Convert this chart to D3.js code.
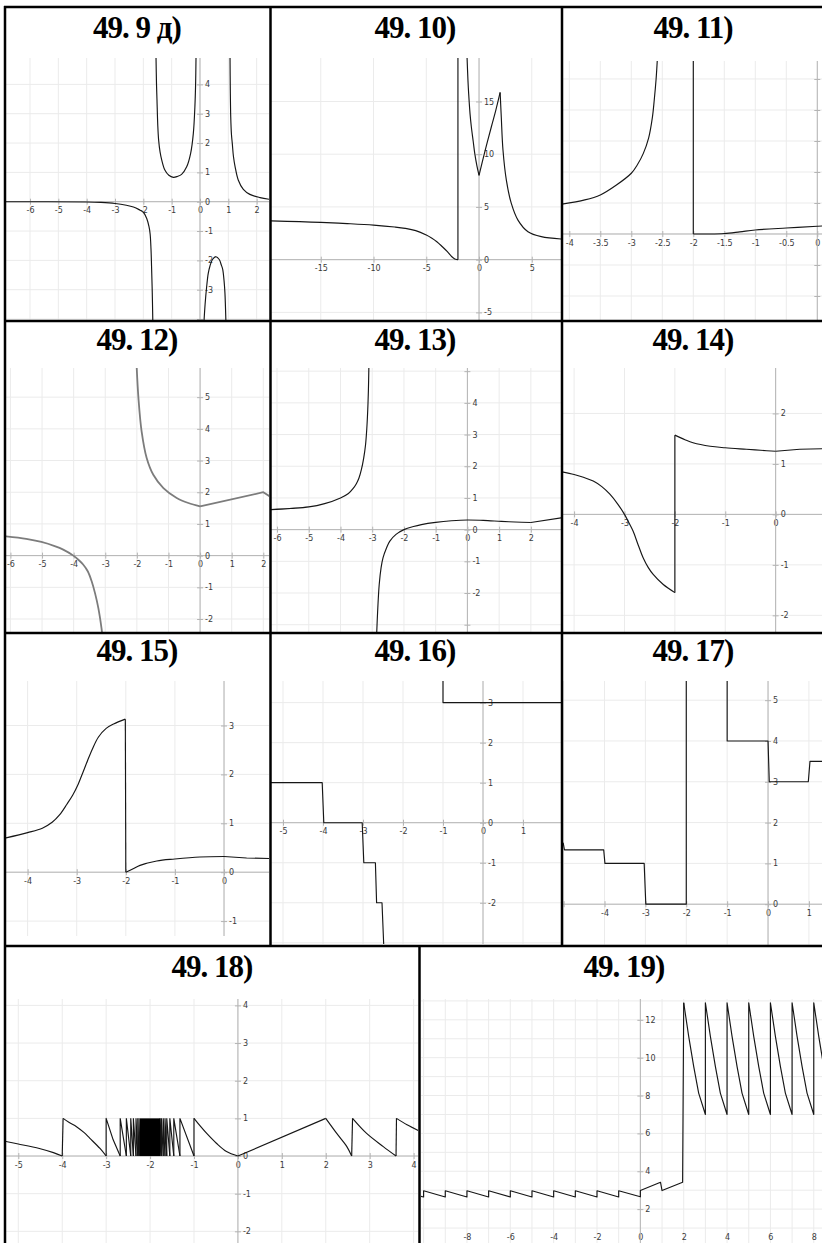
<!DOCTYPE html>
<html>
<head>
<meta charset="utf-8">
<script src="https://cdn.jsdelivr.net/npm/d3@7"></script>
<style>
  body { margin: 0; background: #fff; }
  svg { display: block; }
</style>
</head>
<body>
<svg id="chart" width="822" height="1243"></svg>
<script>
// ---------- titles ----------
const titles = ["49. 9 д)", "49. 10)", "49. 11)", "49. 12)", "49. 13)", "49. 14)",
                "49. 15)", "49. 16)", "49. 17)", "49. 18)", "49. 19)"];

// ---------- tick labels ----------
const ticks9x = [-6, -5, -4, -3, -2, -1, 0, 1, 2];
const ticks9y = [4, 3, 2, 1, 0, -1, -2, -3];
const ticks10x = [-15, -10, -5, 0, 5];
const ticks10y = [15, 10, 5, 0, -5];
const ticks11x = [-4, -3.5, -3, -2.5, -2, -1.5, -1, -0.5, 0];
const ticks11yMarks = [2.5, 2, 1.5, 1, 0.5, -0.5, -1];
const ticks12x = [-6, -5, -4, -3, -2, -1, 0, 1, 2];
const ticks12y = [5, 4, 3, 2, 1, 0, -1, -2];
const ticks13x = [-6, -5, -4, -3, -2, -1, 0, 1, 2];
const ticks13y = [4, 3, 2, 1, 0, -1, -2];
const ticks14x = [-4, -3, -2, -1, 0];
const ticks14y = [2, 1, 0, -1, -2];
const ticks15x = [-4, -3, -2, -1, 0];
const ticks15y = [3, 2, 1, 0, -1];
const ticks16x = [-5, -4, -3, -2, -1, 0, 1];
const ticks16y = [3, 2, 1, 0, -1, -2];
const ticks17x = [-4, -3, -2, -1, 0, 1];
const ticks17y = [5, 4, 3, 2, 1, 0];
const ticks18x = [-5, -4, -3, -2, -1, 0, 1, 2, 3, 4];
const ticks18y = [4, 3, 2, 1, 0, -1, -2];
const ticks19x = [-8, -6, -4, -2, 0, 2, 4, 6, 8];
const ticks19y = [12, 10, 8, 6, 4, 2];

// ---------- 49.9 д ----------
const c9Left = [[-6.85,-0.002],[-4,-0.01],[-3.5,-0.025],[-3,-0.06],[-2.6,-0.12],[-2.35,-0.18],[-2.15,-0.27],[-2,-0.36],[-1.88,-0.57],[-1.8,-0.85],[-1.76,-1.1],[-1.73,-1.6],[-1.71,-2.2],[-1.685,-3.1],[-1.665,-4.1]];
const c9Bowl = [[-1.553,4.95],[-1.535,4.0],[-1.518,3.47],[-1.49,2.6],[-1.46,2.1],[-1.41,1.7],[-1.35,1.42],[-1.24,1.08],[-1.1,0.9],[-0.94,0.83],[-0.8,0.86],[-0.65,0.93],[-0.47,1.19],[-0.33,1.65],[-0.235,2.33],[-0.18,3.24],[-0.155,4.0],[-0.14,4.95]];
const c9Right = [[1.06,4.95],[1.07,3.8],[1.085,2.9],[1.11,2.3],[1.14,1.99],[1.18,1.55],[1.24,1.19],[1.35,0.74],[1.53,0.42],[1.76,0.25],[2.12,0.14],[2.45,0.08]];
const c9Cap = [[0.14,-4.1],[0.18,-3.5],[0.235,-2.9],[0.29,-2.45],[0.35,-2.2],[0.44,-1.97],[0.565,-1.875],[0.68,-1.97],[0.75,-2.15],[0.8,-2.3],[0.85,-2.7],[0.88,-3.1],[0.915,-4.1]];

// ---------- 49.10 ----------
const c10Left = [[-19.8,3.68],[-17,3.6],[-15,3.53],[-12.5,3.42],[-10,3.28],[-8,3.1],[-7,2.97],[-6,2.75],[-5,2.33],[-4.5,2.05],[-4,1.7],[-3.5,1.25],[-3,0.76],[-2.6,0.3],[-2.3,0.07],[-2.08,0.01],[-2.0,0]];
const c10Jump = [[-2,0],[-2,19.3]];
const c10Mid = [[-1.14,19.3],[-1.05,17],[-0.98,15.7],[-0.85,13.8],[-0.73,12.6],[-0.55,11.2],[-0.41,10.1],[-0.2,8.9],[0,8.0]];
const c10Rise = [[0,8.0],[0.54,10.2],[1.17,12.6],[1.6,14.2],[2.0,15.85]];
const c10Tail = [[2.0,15.85],[2.11,13.5],[2.27,10.4],[2.59,7.54],[3.06,5.33],[3.69,3.75],[4.64,2.65],[5.9,2.18],[7.8,1.96]];

// ---------- 49.11 ----------
const c11Left = [[-4.13,0.48],[-3.75,0.55],[-3.5,0.63],[-3.24,0.79],[-3,0.98],[-2.9,1.12],[-2.806,1.3],[-2.72,1.55],[-2.66,1.88],[-2.63,2.16],[-2.6,2.5],[-2.58,2.82]];
const c11Jump = [[-2,2.82],[-2,0]];
const c11Right = [[-2,0],[-1.75,0.0],[-1.5,0.008],[-1.25,0.035],[-1,0.065],[-0.5,0.097],[0,0.125],[0.08,0.13]];

// ---------- 49.12 ----------
const c12Left = [[-6.15,0.61],[-5.5,0.53],[-5.02,0.43],[-4.6,0.3],[-4.33,0.19],[-4.01,0],[-3.85,-0.13],[-3.7,-0.28],[-3.55,-0.5],[-3.43,-0.81],[-3.32,-1.2],[-3.22,-1.65],[-3.12,-2.28],[-3.1,-2.45]];
const c12Mid = [[-2.006,5.95],[-1.95,4.97],[-1.85,3.92],[-1.69,3.08],[-1.48,2.55],[-1.16,2.13],[-0.74,1.82],[-0.37,1.66],[0,1.555]];
const c12Tail = [[0,1.555],[2.0,2.0],[2.2,1.87]];

// ---------- 49.13 ----------
const c13Left = [[-6.2,0.63],[-5,0.716],[-4.5,0.82],[-4,1.0],[-3.75,1.14],[-3.6,1.3],[-3.5,1.45],[-3.42,1.62],[-3.34,1.9],[-3.27,2.25],[-3.21,2.68],[-3.17,3.2],[-3.14,3.8],[-3.12,4.4],[-3.105,5.15]];
const c13Right = [[-2.86,-3.3],[-2.83,-2.6],[-2.78,-1.74],[-2.72,-1.2],[-2.66,-0.89],[-2.55,-0.58],[-2.45,-0.37],[-2.25,-0.15],[-2,0],[-1.7,0.1],[-1.45,0.16],[-1,0.23],[-0.5,0.28],[0,0.305],[0.5,0.29],[1.07,0.26],[1.5,0.24],[2,0.225]];
const c13Tail = [[2,0.225],[2.96,0.37]];

// ---------- 49.14 ----------
const c14Left = [[-4.25,0.845],[-4,0.79],[-3.8,0.73],[-3.62,0.66],[-3.45,0.55],[-3.29,0.4],[-3.13,0.2],[-3,0],[-2.91,-0.17],[-2.83,-0.33],[-2.73,-0.6],[-2.63,-0.86],[-2.53,-1.05],[-2.43,-1.19],[-2.23,-1.39],[-2,-1.55]];
const c14Jump = [[-2,-1.55],[-2,1.57]];
const c14Right = [[-2,1.57],[-1.8,1.48],[-1.64,1.42],[-1.3,1.35],[-1,1.32],[-0.58,1.29],[-0.3,1.27],[0,1.25]];
const c14Tail = [[0,1.25],[0.48,1.29],[0.93,1.3]];

// ---------- 49.15 ----------
const c15Left = [[-4.45,0.70],[-4,0.81],[-3.7,0.9],[-3.5,1.02],[-3.35,1.17],[-3.2,1.39],[-3.08,1.58],[-2.97,1.8],[-2.87,2.05],[-2.78,2.28],[-2.68,2.52],[-2.56,2.76],[-2.4,2.94],[-2.25,3.03],[-2.01,3.13]];
const c15Jump = [[-2.01,3.13],[-2.0,0]];
const c15Right = [[-2,0],[-1.85,0.07],[-1.71,0.14],[-1.37,0.23],[-1,0.27],[-0.49,0.31],[0,0.32]];
const c15Tail = [[0,0.32],[0.46,0.29],[0.92,0.28]];

// ---------- 49.16 ----------
const c16Steps = [[-5.35,1],[-4.02,1],[-3.98,0],[-3.02,0],[-2.98,-1],[-2.69,-1],[-2.66,-2],[-2.525,-2],[-2.48,-3.1]];
const c16Upper = [[-1,3.6],[-1,3],[2,3]];

// ---------- 49.17 ----------
const c17Steps = [[-5.1,1.5],[-5.01,1.5],[-4.98,1.333],[-4.02,1.333],[-3.99,1],[-3.03,1],[-2.99,0],[-2,0],[-2,5.5]];
const c17Upper = [[-1,5.5],[-1,4],[0,4],[0.03,3],[0.985,3],[1.026,3.5],[1.35,3.5]];

// ---------- 49.18 ----------
const c18Tail = [[-5.3,0.39],[-5,0.32],[-4.52,0.2],[-4.2,0.09],[-4,0]];
const c18RiseA = [[-4,0],[-3.98,1]];
const c18FallA = [[-3.98,1],[-3.84,0.89],[-3.675,0.78],[-3.5,0.62],[-3.37,0.47],[-3.14,0.2],[-3,0]];
const c18ToothB = [[-3,0],[-3,1],[-2.84,0.43],[-2.68,0]];
const c18TeethLeft = [-2.68, -2.54, -2.44, -2.38, -2.32, -2.28, -2.25, -2.23];
const c18Dense = [-2.23, -1.77];
const c18TeethRight = [-1.77, -1.74, -1.70, -1.66, -1.62, -1.55, -1.46, -1.32, -1.0];
const c18RiseC = [[-1,0],[-1,1]];
const c18FallC = [[-1,1],[-0.86,0.8],[-0.71,0.6],[-0.49,0.34],[-0.26,0.12],[0,0]];
const c18Ramp = [[0,0],[2,1]];
const c18FallD = [[2,1],[2.25,0.6],[2.48,0.25],[2.59,0]];
const c18RiseE = [[2.59,0],[2.61,1]];
const c18FallE = [[2.61,1],[2.93,0.6],[3.31,0.25],[3.6,0]];
const c18RiseF = [[3.6,0],[3.61,1]];
const c18FallF = [[3.61,1],[3.85,0.83],[4.12,0.67]];

// ---------- 49.19 ----------
const c19Low = [[-10.15,2.68],[-10,2.64],[-10,2.97],[-9,2.64],[-9,2.97],[-8,2.64],[-8,2.97],[-7,2.64],[-7,2.97],[-6,2.64],[-6,2.97],[-5,2.64],[-5,2.97],[-4,2.64],[-4,2.97],[-3,2.64],[-3,2.97],[-2,2.64],[-2,2.97],[-1,2.64],[-1,2.97],[0,2.65],[0,2.98],[0.93,3.42],[1.0,2.98],[1.95,3.42],[2.0,12.9]];
const c19High = [[2,12.9],[2.23,11.13],[2.46,9.54],[2.69,8.13],[3,7.0],
                 [3,12.9],[3.23,11.13],[3.46,9.54],[3.69,8.13],[4,7.0],
                 [4,12.9],[4.23,11.13],[4.46,9.54],[4.69,8.13],[5,7.0],
                 [5,12.9],[5.23,11.13],[5.46,9.54],[5.69,8.13],[6,7.0],
                 [6,12.9],[6.23,11.13],[6.46,9.54],[6.69,8.13],[7,7.0],
                 [7,12.9],[7.23,11.13],[7.46,9.54],[7.69,8.13],[8,7.0],
                 [8,12.9],[8.23,11.13],[8.42,9.8]];

// ---------- panel layout ----------
const S = true, L = false; // smooth / linear curve flags
const panels = [
  { title: titles[0], tx: 137, ty: 38, rect: [6, 58, 269, 320], xd: [-6.848, 2.436], yd: [-4.033, 4.899], g: 1,
    xl: ticks9x, yl: ticks9y, ym: [-4],
    curves: [[c9Left, S], [c9Bowl, S], [c9Right, S], [c9Cap, S]] },
  { title: titles[1], tx: 415, ty: 38, rect: [271, 58, 561, 320], xd: [-19.72, 7.77], yd: [-5.72, 19.12], g: 5,
    xl: ticks10x, yl: ticks10y,
    curves: [[c10Left, S], [c10Jump, L], [c10Mid, S], [c10Rise, S], [c10Tail, S]] },
  { title: titles[2], tx: 693, ty: 38, rect: [562, 61, 822, 320], xd: [-4.118, 0.076], yd: [-1.387, 2.79], g: 0.5,
    xl: ticks11x, yl: [], ym: ticks11yMarks,
    curves: [[c11Left, S], [c11Jump, L], [c11Right, S]] },
  { title: titles[3], tx: 137, ty: 350, rect: [6, 368, 269, 632], xd: [-6.14, 2.18], yd: [-2.41, 5.92], g: 1,
    xl: ticks12x, yl: ticks12y, color: "#7c7c7c", width: 1.8,
    curves: [[c12Left, S], [c12Mid, S], [c12Tail, L]] },
  { title: titles[4], tx: 415, ty: 350, rect: [271, 368, 561, 632], xd: [-6.19, 2.95], yd: [-3.23, 5.1], g: 1,
    xl: ticks13x, yl: ticks13y, ym: [5, -3],
    curves: [[c13Left, S], [c13Right, S], [c13Tail, L]] },
  { title: titles[5], tx: 693, ty: 350, rect: [562, 368, 822, 632], xd: [-4.24, 0.92], yd: [-2.33, 2.9], g: 1,
    xl: ticks14x, yl: ticks14y,
    curves: [[c14Left, S], [c14Jump, L], [c14Right, S], [c14Tail, L]] },
  { title: titles[6], tx: 137, ty: 661, rect: [6, 681, 269, 936], xd: [-4.44, 0.916], yd: [-1.305, 3.91], g: 1,
    xl: ticks15x, yl: ticks15y,
    curves: [[c15Left, S], [c15Jump, L], [c15Right, S], [c15Tail, L]] },
  { title: titles[7], tx: 415, ty: 661, rect: [271, 681, 561, 944], xd: [-5.3, 1.95], yd: [-3.03, 3.54], g: 1,
    xl: ticks16x, yl: ticks16y,
    curves: [[c16Steps, L], [c16Upper, L]] },
  { title: titles[8], tx: 693, ty: 661, rect: [562, 681, 822, 945], xd: [-5.04, 1.32], yd: [-1.0, 5.47], g: 1,
    xl: ticks17x, yl: ticks17y, xm: [-5],
    curves: [[c17Steps, L], [c17Upper, L]] },
  { title: titles[9], tx: 212, ty: 977, rect: [6, 999, 418, 1243], xd: [-5.28, 4.10], yd: [-2.31, 4.17], g: 1,
    xl: ticks18x, yl: ticks18y,
    curves: [[c18Tail, S], [c18RiseA, L], [c18FallA, S], [c18ToothB, L], [c18RiseC, L], [c18FallC, S],
             [c18Ramp, L], [c18FallD, S], [c18RiseE, L], [c18FallE, S], [c18RiseF, L], [c18FallF, S]],
    teeth: [c18TeethLeft, c18TeethRight], dense: c18Dense },
  { title: titles[10], tx: 624, ty: 977, rect: [421, 999, 822, 1243], xd: [-10.12, 8.38], yd: [0.21, 13.1], g: 1,
    xl: ticks19x, yl: ticks19y,
    curves: [[c19Low, L], [c19High, L]] }
];

const svg = d3.select("#chart");
const gridColor = "#ebebeb", axisColor = "#b4b4b4", labelColor = "#3a3a3a";
const fmt = d => String(d);

panels.forEach((p, i) => {
  const [Lx, T, R, B] = p.rect;
  const x = d3.scaleLinear().domain(p.xd).range([Lx, R]);
  const y = d3.scaleLinear().domain(p.yd).range([B, T]);

  svg.append("clipPath").attr("id", "clip" + i)
    .append("rect").attr("x", Lx).attr("y", T).attr("width", R - Lx).attr("height", B - T);
  const g = svg.append("g").attr("clip-path", `url(#clip${i})`);

  // grid
  const eps = 1e-9;
  const gx = d3.range(Math.ceil(p.xd[0] / p.g) * p.g, p.xd[1] + eps, p.g);
  const gy = d3.range(Math.ceil(p.yd[0] / p.g) * p.g, p.yd[1] + eps, p.g);
  g.selectAll(null).data(gx).join("line")
    .attr("x1", d => x(d)).attr("x2", d => x(d)).attr("y1", T).attr("y2", B)
    .attr("stroke", gridColor).attr("stroke-width", 1);
  g.selectAll(null).data(gy).join("line")
    .attr("y1", d => y(d)).attr("y2", d => y(d)).attr("x1", Lx).attr("x2", R)
    .attr("stroke", gridColor).attr("stroke-width", 1);

  // x axis (labels kept inside the view when y = 0 is off-screen)
  const ay = y(0);
  const lblY = Math.min(ay, B - 15);
  const xa = g.append("g").attr("transform", `translate(0,${lblY})`)
    .call(d3.axisBottom(x).tickValues(p.xl.concat(p.xm || [])).tickFormat(fmt)
      .tickSize(3).tickSizeOuter(0).tickPadding(3));
  xa.selectAll(".tick").filter(d => !p.xl.includes(d)).select("text").remove();
  if (lblY !== ay) { xa.select(".domain").remove(); xa.selectAll(".tick line").remove(); }

  // y axis
  const ax = x(0);
  const ya = g.append("g").attr("transform", `translate(${ax},0)`)
    .call(d3.axisRight(y).tickValues(p.yl.concat(p.ym || [])).tickFormat(fmt)
      .tickSize(3).tickSizeOuter(0).tickPadding(2));
  ya.selectAll(".tick").filter(d => !p.yl.includes(d)).select("text").remove();

  [xa, ya].forEach(a => {
    a.attr("font-family", "DejaVu Sans, sans-serif").attr("font-size", 8);
    a.selectAll(".domain").attr("stroke", axisColor).attr("stroke-width", 1);
    a.selectAll(".tick line").attr("stroke", axisColor);
    a.selectAll(".tick text").attr("fill", labelColor);
  });
  // axis lines run across the whole view
  xa.select(".domain").attr("d", `M${Lx},0H${R}`);
  ya.select(".domain").attr("d", `M0,${T}V${B}`);
  xa.selectAll(".tick line").attr("y1", -3).attr("y2", 3);
  ya.selectAll(".tick line").attr("x1", -3).attr("x2", 3);

  // curves
  const color = p.color || "#161616";
  const width = p.width || 1.15;
  const lineS = d3.line().x(d => x(d[0])).y(d => y(d[1])).curve(d3.curveCatmullRom.alpha(0.5));
  const lineL = d3.line().x(d => x(d[0])).y(d => y(d[1]));
  p.curves.forEach(([pts, smooth]) => {
    g.append("path").attr("d", (smooth ? lineS : lineL)(pts))
      .attr("fill", "none").attr("stroke", color).attr("stroke-width", width)
      .attr("stroke-linejoin", "round");
  });

  // sawtooth teeth: rise at the left boundary, fall to the next boundary
  if (p.teeth) {
    p.teeth.forEach(bounds => {
      d3.pairs(bounds).forEach(([a, b]) => {
        g.append("path").attr("d", lineL([[a, 0], [a, 1], [b, 0]]))
          .attr("fill", "none").attr("stroke", color).attr("stroke-width", width);
      });
    });
  }
  if (p.dense) {
    g.append("rect")
      .attr("x", x(p.dense[0])).attr("width", x(p.dense[1]) - x(p.dense[0]))
      .attr("y", y(1)).attr("height", y(0) - y(1)).attr("fill", "#000");
  }

  // title
  svg.append("text").attr("x", p.tx).attr("y", p.ty)
    .attr("text-anchor", "middle")
    .attr("font-family", "Liberation Serif, Times New Roman, serif")
    .attr("font-weight", "bold").attr("font-size", 31).attr("letter-spacing", -1)
    .attr("fill", "#000").text(p.title);
});

// table rules
const hRules = [[4, 822, 7], [4, 822, 321], [4, 822, 633], [4, 822, 946]];
const vRules = [[5, 6, 1243], [270.5, 7, 946], [562, 7, 946], [419.5, 946, 1243]];
svg.selectAll(null).data(hRules).join("line")
  .attr("x1", d => d[0]).attr("x2", d => d[1]).attr("y1", d => d[2]).attr("y2", d => d[2])
  .attr("stroke", "#000").attr("stroke-width", 2.5);
svg.selectAll(null).data(vRules).join("line")
  .attr("x1", d => d[0]).attr("x2", d => d[0]).attr("y1", d => d[1]).attr("y2", d => d[2])
  .attr("stroke", "#000").attr("stroke-width", 2.5);
</script>
</body>
</html>
